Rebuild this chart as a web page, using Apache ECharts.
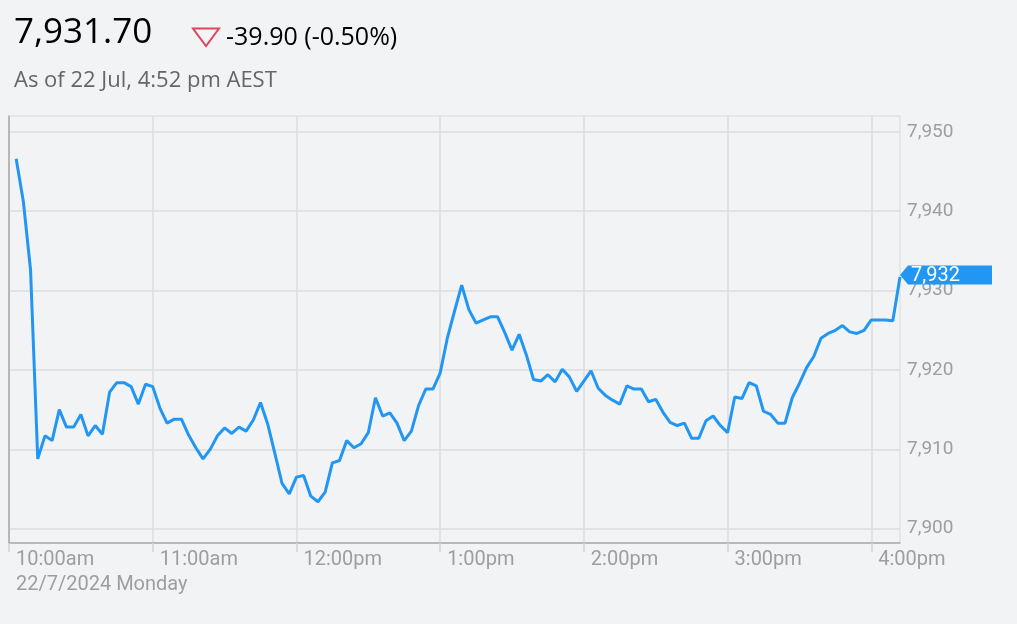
<!DOCTYPE html>
<html>
<head>
<meta charset="utf-8">
<title>7,931.70</title>
<script src="https://cdn.jsdelivr.net/npm/echarts@6/dist/echarts.min.js"></script>
<style>
html,body{margin:0;padding:0;background:#f2f3f5;}
#chart{width:1017px;height:624px;}
</style>
</head>
<body>
<div id="chart"></div>
<script>
// 3分钟一个点，10:03 到 16:12
var times = [
	'10:03','10:06','10:09','10:12','10:15','10:18','10:21','10:24','10:27','10:30',
	'10:33','10:36','10:39','10:42','10:45','10:48','10:51','10:54','10:57','11:00',
	'11:03','11:06','11:09','11:12','11:15','11:18','11:21','11:24','11:27','11:30',
	'11:33','11:36','11:39','11:42','11:45','11:48','11:51','11:54','11:57','12:00',
	'12:03','12:06','12:09','12:12','12:15','12:18','12:21','12:24','12:27','12:30',
	'12:33','12:36','12:39','12:42','12:45','12:48','12:51','12:54','12:57','13:00',
	'13:03','13:06','13:09','13:12','13:15','13:18','13:21','13:24','13:27','13:30',
	'13:33','13:36','13:39','13:42','13:45','13:48','13:51','13:54','13:57','14:00',
	'14:03','14:06','14:09','14:12','14:15','14:18','14:21','14:24','14:27','14:30',
	'14:33','14:36','14:39','14:42','14:45','14:48','14:51','14:54','14:57','15:00',
	'15:03','15:06','15:09','15:12','15:15','15:18','15:21','15:24','15:27','15:30',
	'15:33','15:36','15:39','15:42','15:45','15:48','15:51','15:54','15:57','16:00',
	'16:03','16:06','16:09','16:12'
];
var prices = [
	7946.6,7941.2,7932.6,7908.8,7911.7,7911.1,7915.0,7912.8,7912.8,7914.4,
	7911.7,7913.0,7911.9,7917.2,7918.4,7918.4,7917.9,7915.7,7918.2,7917.9,
	7915.2,7913.3,7913.8,7913.8,7911.8,7910.2,7908.8,7910.0,7911.7,7912.7,
	7912.0,7912.8,7912.3,7913.7,7915.9,7913.2,7909.5,7905.7,7904.4,7906.5,
	7906.7,7904.1,7903.4,7904.6,7908.3,7908.6,7911.1,7910.2,7910.7,7912.1,
	7916.5,7914.2,7914.6,7913.3,7911.1,7912.3,7915.5,7917.6,7917.6,7919.6,
	7924.0,7927.4,7930.7,7927.6,7925.9,7926.3,7926.7,7926.7,7924.7,7922.5,
	7924.5,7921.9,7918.8,7918.6,7919.4,7918.5,7920.1,7919.1,7917.3,7918.6,
	7919.9,7917.7,7916.8,7916.2,7915.7,7918.0,7917.6,7917.6,7916.0,7916.3,
	7914.7,7913.4,7913.0,7913.3,7911.4,7911.4,7913.6,7914.2,7913.0,7912.1,
	7916.6,7916.4,7918.4,7918.0,7914.8,7914.4,7913.3,7913.3,7916.5,7918.3,
	7920.3,7921.7,7924.0,7924.6,7925.0,7925.6,7924.8,7924.6,7925.0,7926.3,
	7926.3,7926.3,7926.2,7931.7
];
var hourValues = [0, 60, 120, 180, 240, 300, 360];
var hourLabels = ['10:00am','11:00am','12:00pm','1:00pm','2:00pm','3:00pm','4:00pm'];
var priceTicks = [7900, 7910, 7920, 7930, 7940, 7950];
var dateLabel = '22/7/2024 Monday';
var lastText = '7,931.70';
var changeText = '-39.90 (-0.50%)';
var asOfText = 'As of 22 Jul, 4:52 pm AEST';

var lineColor = '#2196f3';

//时间转成10点之后的分钟数
function toMin(t){
	var p = t.split(':');
	return (p[0] - 10) * 60 + (+p[1]);
}

window.onload = function(){
	var data = [];
	for(var i=0;i<times.length;i++){
		data.push([toMin(times[i]), prices[i]]);
	}
	var last = data[data.length-1];
	var myChart = echarts.init(document.getElementById('chart'));
	var option = {
		animation: false,
		backgroundColor: '#f2f3f5',
		grid: {
			left: 9,
			right: 117,
			top: 116,
			bottom: 81,
			show: true,
			borderColor: '#d9d9d9',
			borderWidth: 1
		},
		graphic: [
			{
				type: 'text',
				style: {
					x: 14, y: 33,
					text: lastText,
					fill: '#000',
					font: '35px "Open Sans"',
					textVerticalAlign: 'middle'
				}
			},
			{
				type: 'polygon',
				shape: { points: [[193,28.5],[219,28.5],[206,46]] },
				style: { fill: 'none', stroke: '#e0455f', lineWidth: 2 }
			},
			{
				type: 'text',
				style: {
					x: 226, y: 38,
					text: changeText,
					fill: '#000',
					font: '25px "Open Sans"',
					textVerticalAlign: 'middle'
				}
			},
			{
				type: 'text',
				style: {
					x: 14, y: 81,
					text: asOfText,
					fill: '#666',
					font: '22px "Open Sans"',
					textVerticalAlign: 'middle'
				}
			},
			//日期放在第一个时间下面
			{
				type: 'text',
				style: {
					x: 16, y: 585,
					text: dateLabel,
					fill: '#9e9e9e',
					font: '20px Roboto',
					textVerticalAlign: 'middle'
				}
			}
		],
		xAxis: {
			type: 'value',
			min: 0,
			max: 372,
			axisLine: { show: true, lineStyle: { color: '#aaaaaa', width: 1.5 } },
			axisTick: {
				show: true,
				length: 9,
				customValues: hourValues,
				lineStyle: { color: '#d4d4d4', width: 1.5 }
			},
			splitLine: { show: true, lineStyle: { color: '#dcdcdc', width: 1.5 } },
			axisLabel: {
				customValues: hourValues,
				showMinLabel: true,
				showMaxLabel: true,
				hideOverlap: false,
				color: '#9e9e9e',
				fontFamily: 'Roboto',
				fontSize: 20,
				lineHeight: 25,
				align: 'left',
				margin: 4,
				padding: [0, 0, 0, 7],
				formatter: function(v){
					var k = hourValues.indexOf(v);
					return k >= 0 ? hourLabels[k] : '';
				}
			}
		},
		yAxis: {
			type: 'value',
			position: 'right',
			min: 7898.2,
			max: 7952,
			axisLine: { show: true, lineStyle: { color: '#aaaaaa', width: 1.5 } },
			axisTick: { show: false, customValues: priceTicks },
			splitLine: { show: true, lineStyle: { color: '#dcdcdc', width: 1.5 } },
			axisLabel: {
				customValues: priceTicks,
				color: '#9e9e9e',
				fontFamily: 'Roboto',
				fontSize: 19,
				margin: 7,
				formatter: function(v){
					return v.toLocaleString('en-US');
				}
			}
		},
		series: [
			{
				type: 'line',
				data: data,
				showSymbol: false,
				lineStyle: { color: lineColor, width: 3 },
				itemStyle: { color: lineColor },
				markPoint: {
					symbol: 'path://M0,9.5L8,0L92,0L92,19L8,19Z',
					symbolSize: [92, 19],
					symbolKeepAspect: false,
					symbolOffset: [46, -2],
					itemStyle: { color: lineColor },
					label: {
						show: true,
						position: [11, 10.5],
						align: 'left',
						verticalAlign: 'middle',
						color: '#fff',
						fontFamily: 'Roboto',
						fontSize: 20,
						formatter: function(p){
							return Math.round(p.value).toLocaleString('en-US');
						}
					},
					data: [{ coord: last, value: last[1] }]
				}
			}
		]
	};
	myChart.setOption(option);
};
</script>
</body>
</html>
